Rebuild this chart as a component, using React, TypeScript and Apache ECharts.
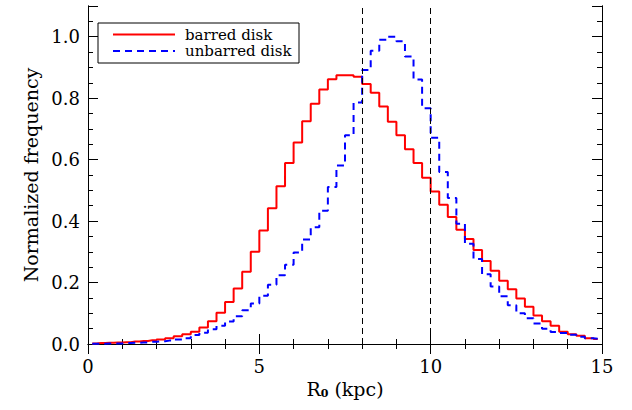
import React, { useEffect, useRef } from "react";
import * as echarts from "echarts";

// Histogram bins: 0 .. 15 kpc, width 0.25 kpc
const BIN_START = 0;
const BIN_WIDTH = 0.25;

const barredDisk = [
  0.002, 0.003, 0.004, 0.005, 0.006, 0.008, 0.010, 0.012, 0.015, 0.019,
  0.025, 0.032, 0.040, 0.054, 0.074, 0.102, 0.137, 0.181, 0.235, 0.300,
  0.369, 0.442, 0.513, 0.589, 0.656, 0.725, 0.782, 0.828, 0.862, 0.875,
  0.875, 0.870, 0.846, 0.818, 0.773, 0.723, 0.679, 0.634, 0.589, 0.541,
  0.496, 0.453, 0.413, 0.372, 0.342, 0.306, 0.270, 0.238, 0.206, 0.178,
  0.148, 0.121, 0.093, 0.074, 0.059, 0.040, 0.032, 0.027, 0.019, 0.016,
];

const unbarredDisk = [
  0.001, 0.001, 0.002, 0.002, 0.003, 0.004, 0.005, 0.007, 0.009, 0.011,
  0.015, 0.019, 0.029, 0.037, 0.048, 0.059, 0.073, 0.090, 0.110, 0.132,
  0.157, 0.193, 0.224, 0.258, 0.298, 0.340, 0.380, 0.434, 0.511, 0.581,
  0.679, 0.786, 0.892, 0.954, 0.990, 1.000, 0.985, 0.936, 0.861, 0.767,
  0.671, 0.560, 0.475, 0.391, 0.326, 0.277, 0.227, 0.187, 0.155, 0.126,
  0.100, 0.084, 0.067, 0.050, 0.039, 0.036, 0.030, 0.024, 0.019, 0.017,
];

const seriesNames = ["barred disk", "unbarred disk"];
const referenceLines = [8, 10];
const xRange = [0, 15];
const xMajor = 5;
const yRange = [0, 1.1];
const yMajor = 0.2;
const yMinor = 0.05;
const xTitle = { main: "R", sub: "0", rest: " (kpc)" };
const yTitle = "Normalized frequency";

const FONT = '"DejaVu Serif", serif';

function toSteps(values: number[]) {
  return values.map((v, i) => [BIN_START + BIN_WIDTH * (i + 0.5), v]);
}

export default function App() {
  const ref = useRef<HTMLDivElement>(null);

  useEffect(() => {
    if (!ref.current) return;
    const chart = echarts.init(ref.current, null, { renderer: "svg" });

    const axisLine = { show: true, lineStyle: { color: "#000", width: 1 } };

    const yAxisBase = (position: string, interval: number, tickLen: number, labels: boolean) => ({
      type: "value",
      position,
      min: yRange[0],
      max: yRange[1],
      interval,
      axisLine,
      axisTick: { show: true, inside: true, length: tickLen, lineStyle: { color: "#000", width: 1 } },
      axisLabel: labels
        ? {
            show: true,
            margin: 8,
            color: "#000",
            fontFamily: FONT,
            fontSize: 18,
            formatter: (v: number) => (v > 1.0001 ? "" : v.toFixed(1)),
          }
        : { show: false },
      splitLine: { show: false },
    });

    const xAxisBase = (position: string, labels: boolean) => ({
      type: "value",
      position,
      min: xRange[0],
      max: xRange[1],
      interval: xMajor,
      axisLine,
      axisTick: { show: true, inside: true, length: 10, lineStyle: { color: "#000", width: 1 } },
      minorTick: { show: true, splitNumber: 5, length: 5, lineStyle: { color: "#000", width: 1 } },
      axisLabel: labels
        ? { show: true, margin: 13, color: "#000", fontFamily: FONT, fontSize: 18 }
        : { show: false },
      splitLine: { show: false },
      minorSplitLine: { show: false },
    });

    const bottomX: any = xAxisBase("bottom", true);
    bottomX.name = `{m|${xTitle.main}}{s|${xTitle.sub}}{m|${xTitle.rest}}`;
    bottomX.nameLocation = "middle";
    bottomX.nameGap = 32;
    bottomX.nameTextStyle = {
      color: "#000",
      fontFamily: FONT,
      fontSize: 18,
      rich: {
        m: { fontFamily: FONT, fontSize: 19, color: "#000" },
        s: { fontFamily: FONT, fontSize: 11, color: "#000", fontWeight: "bold", verticalAlign: "bottom", padding: [8, 0, 0, 0] },
      },
    };

    const leftY: any = yAxisBase("left", yMajor, 10, true);
    leftY.name = yTitle;
    leftY.nameLocation = "middle";
    leftY.nameGap = 48;
    leftY.nameTextStyle = { color: "#000", fontFamily: FONT, fontSize: 19 };

    const legendX = 98;
    const legendY = 23;
    const colors = ["#ff0000", "#0000ff"];

    chart.setOption({
      animation: false,
      backgroundColor: "#fff",
      grid: { left: 88, right: 30, top: 6, bottom: 66, containLabel: false },
      xAxis: [bottomX, xAxisBase("top", false)],
      yAxis: [
        leftY,
        yAxisBase("left", yMinor, 5, false),
        yAxisBase("right", yMajor, 10, false),
        yAxisBase("right", yMinor, 5, false),
      ],
      series: [
        {
          name: seriesNames[0],
          type: "line",
          step: "middle",
          data: toSteps(barredDisk),
          symbol: "none",
          showSymbol: false,
          lineStyle: { color: colors[0], width: 2 },
          z: 2,
          markLine: {
            silent: true,
            symbol: ["none", "none"],
            label: { show: false },
            lineStyle: { color: "#000", type: [6, 4], width: 1 },
            data: referenceLines.map((x) => ({ xAxis: x })),
          },
        },
        {
          name: seriesNames[1],
          type: "line",
          step: "middle",
          data: toSteps(unbarredDisk),
          symbol: "none",
          showSymbol: false,
          lineStyle: { color: colors[1], width: 2, type: [7, 5] },
          z: 3,
        },
      ],
      graphic: [
        {
          type: "rect",
          z: 100,
          shape: { x: legendX, y: legendY, width: 201, height: 40 },
          style: { fill: "#fff", stroke: "#000", lineWidth: 1 },
        },
        ...seriesNames.flatMap((name, i) => [
          {
            type: "line",
            z: 101,
            shape: { x1: legendX + 15, y1: legendY + 11.5 + 16.5 * i, x2: legendX + 77, y2: legendY + 11.5 + 16.5 * i },
            style: { stroke: colors[i], lineWidth: 2, lineDash: i === 1 ? [7, 5] : null },
          },
          {
            type: "text",
            z: 101,
            x: legendX + 87,
            y: legendY + 11.5 + 16.5 * i,
            style: {
              text: name,
              fill: "#000",
              font: `15px ${FONT}`,
              verticalAlign: "middle",
              align: "left",
            },
          },
        ]),
      ],
    });

    return () => chart.dispose();
  }, []);

  return (
    <div
      ref={ref}
      style={{ position: "fixed", left: 0, top: 0, width: 632, height: 410, background: "#fff" }}
    />
  );
}
